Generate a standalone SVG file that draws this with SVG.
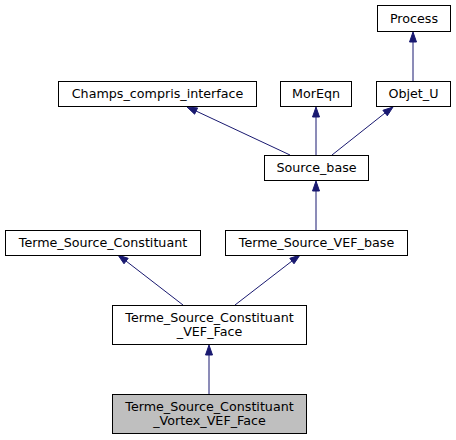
<svg xmlns="http://www.w3.org/2000/svg" width="456" height="440" viewBox="0 0 456 440">
<defs>
<style>
.n rect{fill:#fff;stroke:#000;stroke-width:1}
.n text{font-family:"DejaVu Sans",sans-serif;font-size:12.7px;text-anchor:middle;fill:#000}
.e line{stroke:#191970;stroke-width:1}
.e polygon{fill:#191970;stroke:#191970}
</style>
</defs>
<rect width="456" height="440" fill="#fff"/>
<g class="e" id="connectors">
<line x1="413" y1="81" x2="413" y2="41"/>
<polygon points="409.5,42 413,32 416.5,42"/>
<line x1="290" y1="155" x2="196" y2="111"/>
<polygon points="194.6,114.2 187,107 197.6,107.9"/>
<line x1="316" y1="155" x2="316" y2="117"/>
<polygon points="312.5,117 316,107 319.5,117"/>
<line x1="332" y1="155" x2="385" y2="113"/>
<polygon points="382.9,110.3 393,107 387.3,115.8"/>
<line x1="316" y1="230" x2="316" y2="191"/>
<polygon points="312.5,191 316,181 319.5,191"/>
<line x1="183" y1="305" x2="126" y2="261"/>
<polygon points="124,263.8 118,255 128.2,258.3"/>
<line x1="235" y1="305" x2="292" y2="261"/>
<polygon points="289.8,258.3 300,255 294,263.8"/>
<line x1="209" y1="394" x2="209" y2="355"/>
<polygon points="205.5,355 209,345 212.5,355"/>
</g>
<g class="n" id="node_process">
<rect x="377.5" y="5.5" width="73" height="26"/>
<text x="414" y="22.5">Process</text>
</g>
<g class="n" id="node_champs">
<rect x="58.5" y="81.5" width="198" height="25"/>
<text x="157.5" y="97.5">Champs_compris_interface</text>
</g>
<g class="n" id="node_moreqn">
<rect x="280.5" y="81.5" width="71" height="25"/>
<text x="316" y="97.5">MorEqn</text>
</g>
<g class="n" id="node_objet_u">
<rect x="376.5" y="81.5" width="74" height="25"/>
<text x="413.5" y="97.5">Objet_U</text>
</g>
<g class="n" id="node_source_base">
<rect x="264.5" y="155.5" width="104" height="25"/>
<text x="316.5" y="171.5">Source_base</text>
</g>
<g class="n" id="node_tsc">
<rect x="5.5" y="230.5" width="195" height="25"/>
<text x="103" y="246.5">Terme_Source_Constituant</text>
</g>
<g class="n" id="node_tsvb">
<rect x="225.5" y="230.5" width="182" height="25"/>
<text x="316.5" y="246.5">Terme_Source_VEF_base</text>
</g>
<g class="n" id="node_tscvf">
<rect x="112.5" y="305.5" width="194" height="39"/>
<text x="209.5" y="321.5">Terme_Source_Constituant</text>
<text x="209.5" y="335.5">_VEF_Face</text>
</g>
<g class="n" id="node_tscvvf">
<rect x="112.5" y="394.5" width="194" height="39" style="fill:#bfbfbf"/>
<text x="209.5" y="410.5">Terme_Source_Constituant</text>
<text x="209.5" y="424.5">_Vortex_VEF_Face</text>
</g>
</svg>
